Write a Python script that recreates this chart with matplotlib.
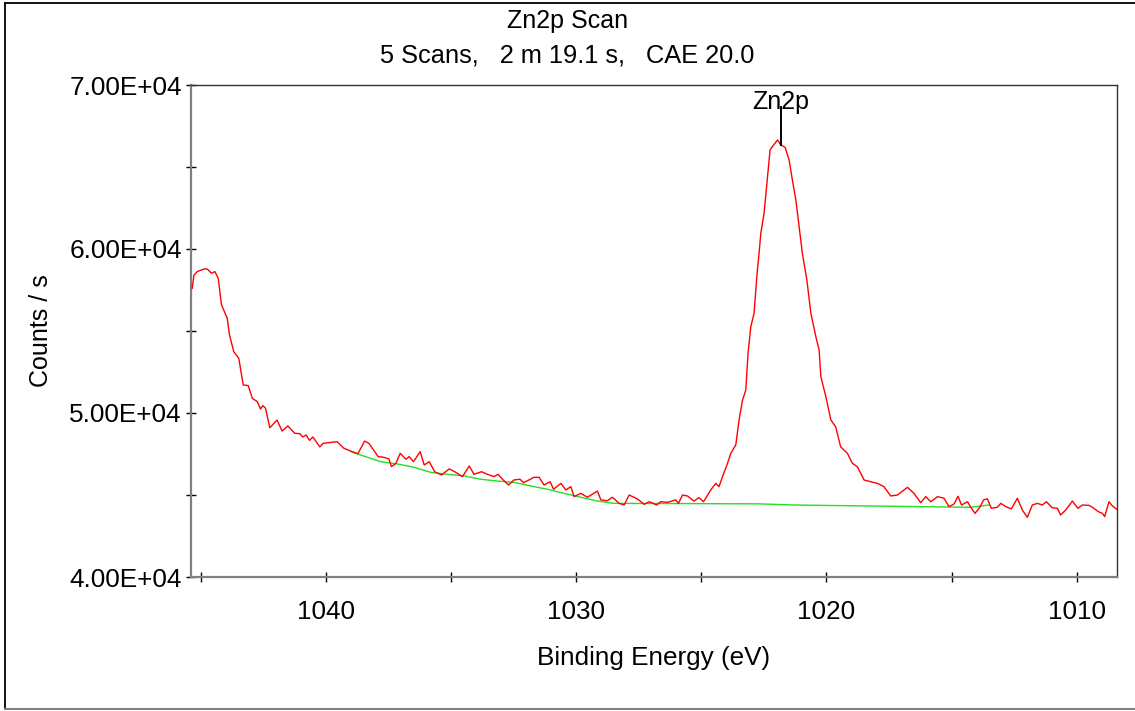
import numpy as np
import matplotlib
matplotlib.use("Agg")
import matplotlib.pyplot as plt
from matplotlib.ticker import MultipleLocator, FuncFormatter
from matplotlib.lines import Line2D

plt.rcParams['font.family'] = ['Liberation Sans', 'DejaVu Sans']

# ---- data (Binding energy in eV, counts / s) ----
energy = [
    1045.34, 1045.27, 1045.14, 1044.87, 1044.74, 1044.57, 1044.43, 1044.30, 1044.17, 1043.94,
    1043.85, 1043.68, 1043.48, 1043.30, 1043.10, 1042.94, 1042.74, 1042.61, 1042.52, 1042.41,
    1042.24, 1041.95, 1041.75, 1041.52, 1041.24, 1041.04, 1040.92, 1040.79, 1040.65, 1040.52,
    1040.24, 1040.11, 1039.55, 1039.28, 1038.95, 1038.72, 1038.45, 1038.28, 1037.91, 1037.68,
    1037.48, 1037.38, 1037.20, 1037.03, 1036.80, 1036.67, 1036.50, 1036.23, 1036.07, 1035.87,
    1035.65, 1035.38, 1035.07, 1034.85, 1034.54, 1034.27, 1034.08, 1033.78, 1033.54, 1033.28,
    1033.12, 1032.94, 1032.70, 1032.48, 1032.24, 1032.10, 1031.97, 1031.68, 1031.48, 1031.28,
    1031.04, 1030.90, 1030.61, 1030.41, 1030.21, 1030.08, 1029.81, 1029.55, 1029.15, 1029.01,
    1028.75, 1028.55, 1028.28, 1028.08, 1027.88, 1027.55, 1027.28, 1027.08, 1026.78, 1026.62,
    1026.35, 1026.02, 1025.91, 1025.75, 1025.55, 1025.29, 1025.09, 1024.91, 1024.82, 1024.62,
    1024.42, 1024.29, 1024.15, 1023.95, 1023.82, 1023.62, 1023.49, 1023.35, 1023.22, 1023.13,
    1023.02, 1022.89, 1022.78, 1022.69, 1022.62, 1022.49, 1022.35, 1022.25, 1022.11, 1021.95,
    1021.82, 1021.65, 1021.49, 1021.36, 1021.22, 1021.09, 1020.96, 1020.78, 1020.62, 1020.42,
    1020.29, 1020.22, 1020.02, 1019.82, 1019.63, 1019.43, 1019.16, 1018.96, 1018.76, 1018.49,
    1018.23, 1017.96, 1017.70, 1017.43, 1017.16, 1016.76, 1016.50, 1016.23, 1016.03, 1015.83,
    1015.56, 1015.30, 1015.10, 1014.90, 1014.74, 1014.60, 1014.36, 1014.23, 1014.06, 1013.87,
    1013.72, 1013.57, 1013.41, 1013.17, 1013.03, 1012.83, 1012.61, 1012.37, 1012.17, 1011.97,
    1011.77, 1011.57, 1011.37, 1011.21, 1010.97, 1010.77, 1010.64, 1010.44, 1010.17, 1009.95,
    1009.77, 1009.51, 1009.37, 1009.13, 1008.97, 1008.88, 1008.71, 1008.57, 1008.40,
]
counts = [
    57600, 58410, 58620, 58780, 58780, 58520, 58620, 58210, 56590, 55780,
    54760, 53740, 53340, 51710, 51670, 50900, 50690, 50240, 50450, 50290,
    49100, 49570, 48900, 49210, 48760, 48740, 48540, 48660, 48330, 48540,
    47930, 48150, 48250, 47850, 47640, 47520, 48290, 48150, 47340, 47300,
    47200, 46730, 46930, 47540, 47180, 47340, 47030, 47640, 46830, 47030,
    46420, 46220, 46590, 46420, 46120, 46770, 46260, 46420, 46260, 46120,
    46260, 45960, 45610, 45920, 45960, 45750, 45850, 46080, 46080, 45610,
    45810, 45350, 45710, 45310, 45510, 44900, 45100, 44860, 45240, 44700,
    44650, 44860, 44490, 44390, 45000, 44760, 44430, 44590, 44390, 44590,
    44550, 44700, 44490, 45000, 44940, 44630, 44840, 44590, 44800, 45310,
    45710, 45510, 46120, 46930, 47540, 48050, 49570, 50790, 51400, 53640,
    55260, 56080, 58310, 59740, 60960, 62180, 64410, 66040, 66340, 66650,
    66340, 66200, 65430, 64210, 62990, 61360, 59740, 58110, 56080, 54650,
    53840, 52210, 50990, 49570, 49160, 47940, 47540, 46930, 46720, 45910,
    45810, 45710, 45510, 44940, 45000, 45470, 45100, 44530, 44900, 44590,
    44900, 44800, 44290, 44450, 44920, 44390, 44590, 44250, 43880, 44250,
    44700, 44770, 44190, 44250, 44490, 44290, 44150, 44800, 44080, 43640,
    44390, 44490, 44390, 44590, 44220, 44190, 43780, 44080, 44630, 44190,
    44390, 44370, 44250, 43980, 43880, 43680, 44590, 44330, 44130,
]

bg_energy = [1039.00, 1038.40, 1037.80, 1037.14, 1036.47, 1035.81, 1035.14, 1034.47,
             1033.81, 1033.14, 1032.48, 1031.81, 1031.14, 1030.48, 1029.81, 1029.15,
             1028.48, 1022.70, 1021.30, 1014.23, 1013.50]
bg_counts = [47650, 47330, 47030, 46890, 46690, 46380, 46260, 46160,
             45960, 45850, 45770, 45550, 45350, 45100, 44860, 44630,
             44490, 44460, 44390, 44250, 44390]

peak_name = "Zn2p"
peak_energy = 1021.82
peak_label_counts = 68520

title_line1 = "Zn2p Scan"
title_line2 = "5 Scans,   2 m 19.1 s,   CAE 20.0"
x_label = "Binding Energy (eV)"
y_label = "Counts / s"
x_range = (1045.4, 1008.4)
y_range = (40000, 70000)

W, H = 1135, 711
fig = plt.figure(figsize=(W / 100, H / 100), dpi=100)
ax = fig.add_axes([190.7 / W, 1 - 577 / H, (1116.7 - 190.7) / W, (577 - 85) / H])

ax.plot(energy, counts, color='#ff0000', lw=1.0, zorder=3)
ax.plot(bg_energy, bg_counts, color='#22e022', lw=1.0, zorder=2)

peak_curve = np.interp(peak_energy, energy[::-1], counts[::-1])
ax.plot([peak_energy, peak_energy], [peak_curve, peak_label_counts + 150],
        color='black', lw=1.4, zorder=4)
ax.text(peak_energy, peak_label_counts, peak_name, ha='center', va='baseline',
        fontsize=18, zorder=5)

ax.set_xlim(*x_range)
ax.set_ylim(*y_range)
ax.xaxis.set_major_locator(MultipleLocator(10))
ax.xaxis.set_minor_locator(MultipleLocator(5))
ax.yaxis.set_major_locator(MultipleLocator(10000))
ax.yaxis.set_minor_locator(MultipleLocator(5000))
ax.yaxis.set_major_formatter(FuncFormatter(
    lambda v, p: "{:.2E}".format(v)))

ax.tick_params(which='both', direction='inout', length=7, width=1,
               color='black', labelsize=18.8)
ax.tick_params(axis='y', which='both', pad=3)
ax.tick_params(axis='x', which='both', pad=13)

for s in ('left', 'bottom'):
    ax.spines[s].set_color('#808080')
    ax.spines[s].set_linewidth(1.6)
for s in ('top', 'right'):
    ax.spines[s].set_color('#333333')
    ax.spines[s].set_linewidth(1.0)

ax.set_xlabel(x_label, fontsize=18.8)
ax.xaxis.label.set_va('center')
ax.xaxis.set_label_coords(0.5, (577 - 658.3) / 492)
ax.set_ylabel(y_label, fontsize=18)
ax.yaxis.label.set_va('center')
ax.yaxis.set_label_coords((41.5 - 190.7) / 926, 0.5)

fig.text(0.5, 1 - 20.7 / H, title_line1, ha='center', va='center', fontsize=18)
fig.text(0.5, 1 - 55 / H, title_line2, ha='center', va='center', fontsize=18.3)

# outer frame
x0, yt, yb = 5 / W, 1 - 3 / H, 1 - 709 / H
fig.add_artist(Line2D([x0, 1], [yt, yt], color='black', lw=1.3))
fig.add_artist(Line2D([x0, x0], [yt, yb], color='black', lw=1.3))
fig.add_artist(Line2D([x0, 1], [yb, yb], color='#808080', lw=1.5))

fig.savefig("out.png", dpi=100)
